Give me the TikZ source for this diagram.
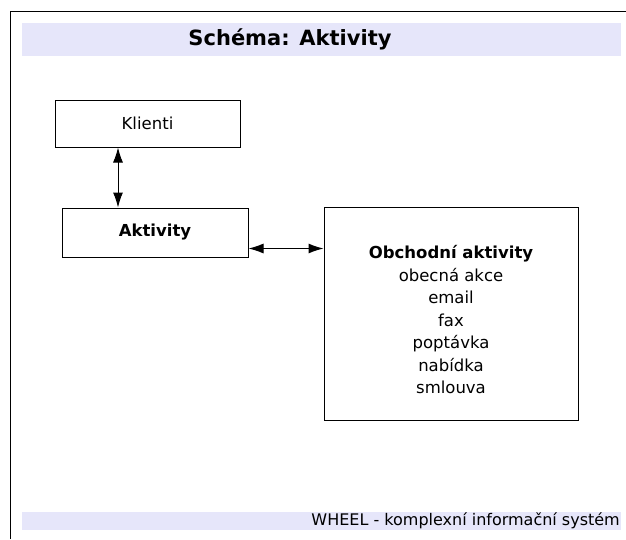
\documentclass[tikz,border=0pt]{standalone}
\usepackage{fontspec}
\setmainfont{DejaVu Sans}
\usetikzlibrary{arrows.meta,positioning}
\definecolor{bandblue}{RGB}{230,230,250}

\begin{document}
\begin{tikzpicture}[
x=1pt,y=-1pt,
box/.style={
rectangle,
draw=black,
line width=1pt,
inner sep=0pt,
font=\fontsize{16.5}{20}\selectfont
},
band/.style={
draw=none,
fill=bandblue
},
link/.style={
{Latex[length=15pt,width=10pt]}-{Latex[length=15pt,width=10pt]},
line width=1pt
}]

\useasboundingbox (0,0) rectangle (626,539);

% frame and bands
\draw[line width=1.2pt] (10.5,539) -- (10.5,11.5) -- (626,11.5);
\fill[band] (22,23) rectangle (621,56);
\fill[band] (22,512) rectangle (621,530);

\node[font=\fontsize{21}{25}\selectfont\bfseries] (title) at (290,39.5) {Schéma: Aktivity};
\node[font=\fontsize{16}{19}\selectfont,anchor=east,inner sep=0pt] (footer) at (620,521) {WHEEL - komplexní informační systém};

\node[box,minimum width=185pt,minimum height=47pt] (klienti) at (147.5,123.5) {Klienti};
\node[box,minimum width=186pt,minimum height=49pt,font=\fontsize{16.5}{20}\selectfont\bfseries] (aktivity) at (155,232.5) {Aktivity};
\node[box,minimum width=254pt,minimum height=213pt] (obchod) at (451,313.5) {};
\node[align=center,font=\fontsize{16.5}{22.5}\selectfont] (obchodlist) at ([yshift=-6.5pt]obchod.center) {\textbf{Obchodní aktivity}\\obecná akce\\email\\fax\\poptávka\\nabídka\\smlouva};

\draw[link] ([xshift=-29.5pt]klienti.south) -- ([xshift=-37pt]aktivity.north);
\draw[link] ([yshift=9pt]aktivity.south east) -- ([yshift=9pt]aktivity.south east -| obchod.west);

\end{tikzpicture}
\end{document}
